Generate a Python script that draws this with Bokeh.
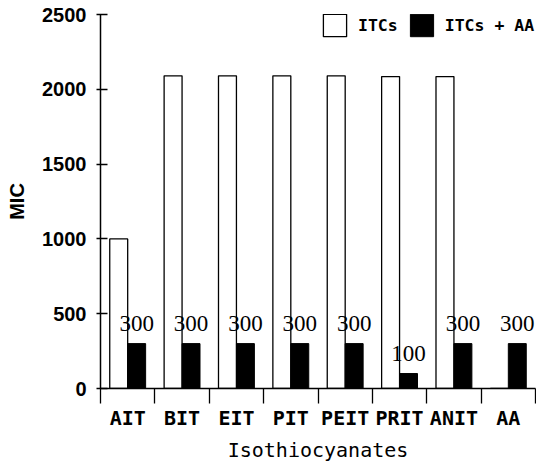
from bokeh.plotting import figure
from bokeh.models import Range1d, FixedTicker, ColumnDataSource, LabelSet, Legend, LegendItem
from bokeh.embed import file_html
from bokeh.resources import INLINE
import numpy as np

# ---- data ----
categories = ["AIT", "BIT", "EIT", "PIT", "PEIT", "PRIT", "ANIT", "AA"]
itcs = [1000, 2090, 2090, 2090, 2090, 2085, 2085, 0]
itcs_aa = [300, 300, 300, 300, 300, 100, 300, 300]
series_names = ["ITCs", "ITCs + AA"]
y_ticks = [0, 500, 1000, 1500, 2000, 2500]

n = len(categories)
centers = np.arange(n) + 0.5
bar_w = 0.33

src = ColumnDataSource(dict(
    cat=categories,
    xw=centers - bar_w / 2,
    xb=centers + bar_w / 2,
    itcs=itcs,
    itcs_aa=itcs_aa,
    lbl=[str(v) for v in itcs_aa],
))

p = figure(width=536, height=464, output_backend="svg", toolbar_location=None,
           x_range=Range1d(0, n), y_range=Range1d(0, 2500),
           min_border_left=100, min_border_right=1, min_border_top=14, min_border_bottom=76)
p.outline_line_color = None
p.xgrid.visible = False
p.ygrid.visible = False
p.background_fill_color = "white"

r_w = p.vbar(x="xw", top="itcs", bottom=0, width=bar_w, source=src,
             fill_color="white", line_color="black", line_width=1.3)
r_b = p.vbar(x="xb", top="itcs_aa", bottom=0, width=bar_w, source=src,
             fill_color="black", line_color="black", line_width=1)

labels = LabelSet(x="xb", y="itcs_aa", text="lbl", source=src, text_align="center",
                  text_baseline="alphabetic", y_offset=13, text_font="Liberation Sans",
                  text_font_size="23px", text_color="black")
p.add_layout(labels)

# x axis
xa = p.xaxis[0]
xa.ticker = FixedTicker(ticks=list(centers), minor_ticks=list(range(n + 1)))
xa.major_label_overrides = {float(c): cat for c, cat in zip(centers, categories)}
xa.major_tick_in = 0
xa.major_tick_out = 0
xa.minor_tick_in = 0
xa.minor_tick_out = 15
xa.minor_tick_line_color = "black"
xa.minor_tick_line_width = 1.3
xa.axis_line_color = "black"
xa.axis_line_width = 1.5
xa.major_label_standoff = 2
xa.major_label_text_font = "DejaVu Sans Mono"
xa.major_label_text_font_size = "20px"
xa.major_label_text_font_style = "bold"
xa.major_label_text_color = "black"
xa.axis_label = "Isothiocyanates"
xa.axis_label_text_font = "DejaVu Sans Mono"
xa.axis_label_text_font_size = "20px"
xa.axis_label_text_font_style = "normal"
xa.axis_label_text_color = "black"
xa.axis_label_standoff = 5

# y axis
ya = p.yaxis[0]
ya.ticker = FixedTicker(ticks=y_ticks, minor_ticks=[])
ya.major_tick_in = 7
ya.major_tick_out = 4
ya.major_tick_line_color = "black"
ya.major_tick_line_width = 1.3
ya.axis_line_color = "black"
ya.axis_line_width = 1.5
ya.major_label_standoff = 10
ya.major_label_text_font = "Liberation Sans"
ya.major_label_text_font_size = "20px"
ya.major_label_text_font_style = "bold"
ya.major_label_text_color = "black"
ya.axis_label = "MIC"
ya.axis_label_text_font = "Liberation Sans"
ya.axis_label_text_font_size = "20px"
ya.axis_label_text_font_style = "bold"
ya.axis_label_text_color = "black"
ya.axis_label_standoff = 11

legend = Legend(items=[LegendItem(label=series_names[0], renderers=[r_w]),
                       LegendItem(label=series_names[1], renderers=[r_b])],
                orientation="horizontal", location=(220, 349),
                glyph_width=29, glyph_height=28, label_standoff=9, spacing=9,
                padding=0, margin=0, border_line_color=None, background_fill_alpha=0,
                label_text_font="DejaVu Sans Mono", label_text_font_style="bold",
                label_text_font_size="16.5px", label_text_color="black")
p.add_layout(legend, "center")

open("out.html", "w").write(file_html(p, INLINE))
